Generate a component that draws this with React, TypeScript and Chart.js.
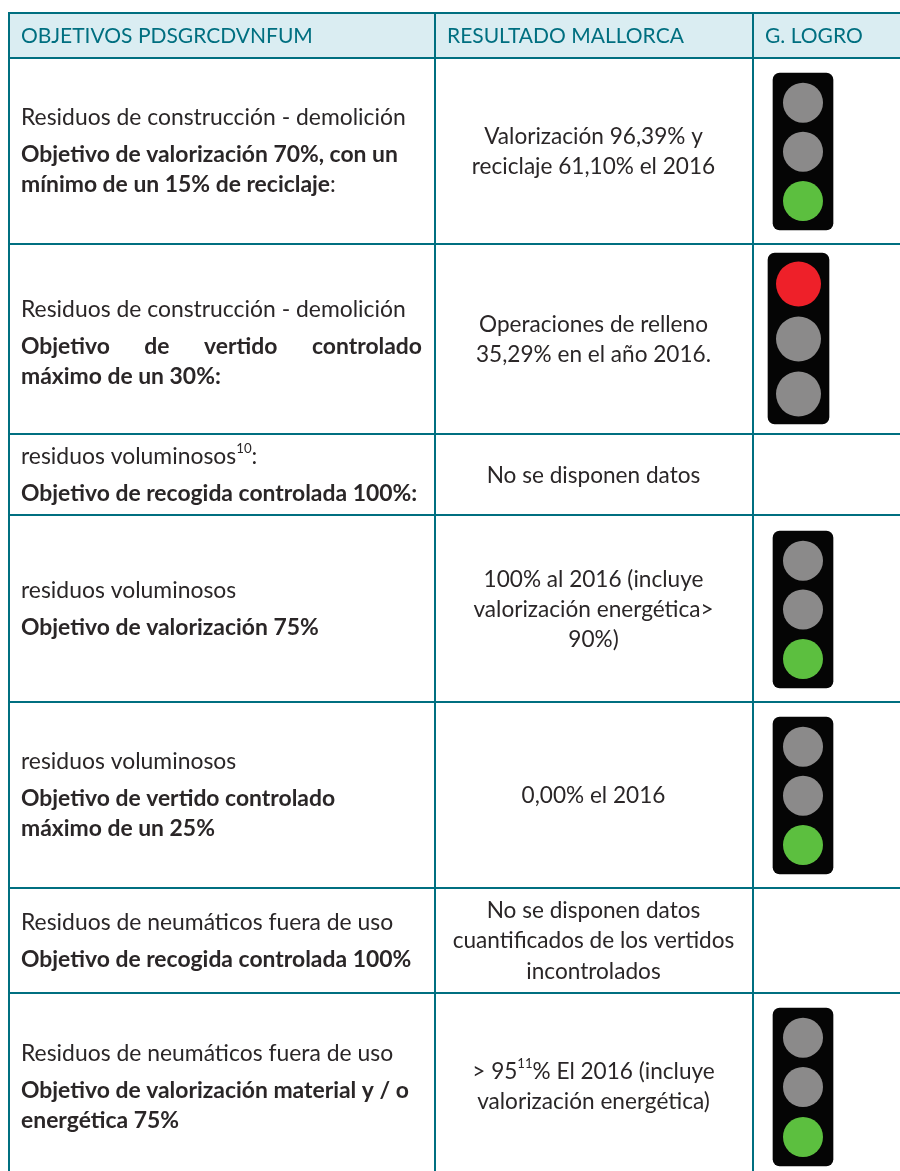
import React, { useEffect, useRef } from "react";
import { Chart, registerables } from "chart.js";

Chart.register(...registerables);

// ---- table content ----
const headers = ["OBJETIVOS PDSGRCDVNFUM", "RESULTADO MALLORCA", "G. LOGRO"];

type Run = { t: string; bold?: boolean; sup?: boolean };
const objectiveLines: Run[][][] = [
  [[{ t: "Residuos de construcción - demolición" }], [{ t: "Objetivo de valorización 70%, con un", bold: true }], [{ t: "mínimo de un 15% de reciclaje", bold: true }, { t: ":" }]],
  [[{ t: "Residuos de construcción - demolición" }], [{ t: "Objetivo de vertido controlado", bold: true }], [{ t: "máximo de un 30%:", bold: true }]],
  [[{ t: "residuos voluminosos" }, { t: "10", sup: true }, { t: ":" }], [{ t: "Objetivo de recogida controlada 100%:", bold: true }]],
  [[{ t: "residuos voluminosos" }], [{ t: "Objetivo de valorización 75%", bold: true }]],
  [[{ t: "residuos voluminosos" }], [{ t: "Objetivo de vertido controlado", bold: true }], [{ t: "máximo de un 25%", bold: true }]],
  [[{ t: "Residuos de neumáticos fuera de uso" }], [{ t: "Objetivo de recogida controlada 100%", bold: true }]],
  [[{ t: "Residuos de neumáticos fuera de uso" }], [{ t: "Objetivo de valorización material y / o", bold: true }], [{ t: "energética 75%", bold: true }]],
];
const resultLines: Run[][][] = [
  [[{ t: "Valorización 96,39% y" }], [{ t: "reciclaje 61,10% el 2016" }]],
  [[{ t: "Operaciones de relleno" }], [{ t: "35,29% en el año 2016." }]],
  [[{ t: "No se disponen datos" }]],
  [[{ t: "100% al 2016 (incluye" }], [{ t: "valorización energética>" }], [{ t: "90%)" }]],
  [[{ t: "0,00% el 2016" }]],
  [[{ t: "No se disponen datos" }], [{ t: "cuantificados de los vertidos" }], [{ t: "incontrolados" }]],
  [[{ t: "> 95" }, { t: "11", sup: true }, { t: "% El 2016 (incluye" }], [{ t: "valorización energética)" }]],
];

// ---- traffic lights, one per rated row ----
const lightStates = [
  ["off", "off", "green"],
  ["red", "off", "off"],
  ["off", "off", "green"],
  ["off", "off", "green"],
  ["off", "off", "green"],
];
const lightCenterX = [803, 798.5, 803, 803, 803];
const lightSpans = [[73, 230], [253, 424], [531, 688], [717, 874], [1008, 1166]];
const lampCenters = [
  [102.7, 151.7, 201],
  [284, 339, 394],
  [560.7, 609.5, 659],
  [746.7, 795.7, 845],
  [1037.7, 1087, 1137],
];

// ---- table rules ----
const columnEdges = [9, 435, 753];
const rowEdges = [13, 58, 244, 434, 515, 702, 888, 993];

// ---- layout ----
const W = 900;
const H = 1171;
const TEAL = "#006f80";
const HEADER_FILL = "#daedf2";
const INK = "#2a2627";
const FONT = "Lato";
const LEFT_SIZE = 22.9;
const RESULT_SIZE = 22.6;
const HEADER_SIZE = 21;
const LEFT_X = 21;
const RESULT_CX = 593.5;
const JUSTIFY_RIGHT = 422;
const headerX = [21, 447, 765];
const HEADER_BASE = 43;
const objectiveBase = [[125, 162, 192], [317, 354, 384], [464, 501], [598, 635], [769, 806, 836], [930, 967], [1061, 1098, 1128]];
const resultBase = [[144, 174], [332, 362], [483], [587, 617, 647], [803], [918, 948, 979], [1079, 1109]];
const lampColors: Record<string, string> = { off: "#8b8a8a", green: "#5cbf3f", red: "#ee2029" };

const fontFor = (r: Run, size: number) =>
  `${r.bold ? "bold " : ""}${r.sup ? size * 0.58 : size}px ${FONT}`;

function widthOf(ctx: CanvasRenderingContext2D, runs: Run[], size: number) {
  return runs.reduce((w, r) => {
    ctx.font = fontFor(r, size);
    return w + ctx.measureText(r.t).width;
  }, 0);
}

function drawRuns(ctx: CanvasRenderingContext2D, runs: Run[], x: number, y: number, size: number) {
  let cx = x;
  for (const r of runs) {
    ctx.font = fontFor(r, size);
    ctx.fillText(r.t, cx, r.sup ? y - size * 0.5 : y);
    cx += ctx.measureText(r.t).width;
  }
}

const tableText = {
  id: "tableText",
  afterDatasetsDraw(chart: any) {
    const { ctx, scales } = chart;
    const px = (v: number) => scales.x.getPixelForValue(v);
    const py = (v: number) => scales.y.getPixelForValue(v);
    ctx.save();
    ctx.textAlign = "left";
    ctx.textBaseline = "alphabetic";
    ctx.fillStyle = TEAL;
    headers.forEach((h, i) => {
      ctx.font = `${HEADER_SIZE}px ${FONT}`;
      ctx.fillText(h, px(headerX[i]), py(HEADER_BASE));
    });
    ctx.fillStyle = INK;
    objectiveLines.forEach((lines, r) =>
      lines.forEach((runs, l) => {
        const y = py(objectiveBase[r][l]);
        if (r === 1 && l === 1) {
          // this line is justified to the cell's width in the source
          const words = runs[0].t.split(" ");
          ctx.font = fontFor(runs[0], LEFT_SIZE);
          const used = words.reduce((s, w) => s + ctx.measureText(w).width, 0);
          const gap = (px(JUSTIFY_RIGHT) - px(LEFT_X) - used) / (words.length - 1);
          let cx = px(LEFT_X);
          words.forEach((w) => {
            ctx.fillText(w, cx, y);
            cx += ctx.measureText(w).width + gap;
          });
        } else {
          drawRuns(ctx, runs, px(LEFT_X), y, LEFT_SIZE);
        }
      })
    );
    resultLines.forEach((lines, r) =>
      lines.forEach((runs, l) => {
        const w = widthOf(ctx, runs, RESULT_SIZE);
        drawRuns(ctx, runs, px(RESULT_CX) - w / 2, py(resultBase[r][l]), RESULT_SIZE);
      })
    );
    ctx.restore();
  },
};

export default function App() {
  const ref = useRef<HTMLCanvasElement>(null);
  useEffect(() => {
    if (!ref.current) return;
    const ruleStyle = { type: "line", borderColor: TEAL, borderWidth: 2, pointRadius: 0, fill: false, order: 3 };
    const datasets: any[] = [
      {
        type: "line",
        label: "header",
        data: [{ x: columnEdges[0], y: rowEdges[0] }, { x: W, y: rowEdges[0] }],
        fill: { value: rowEdges[1] },
        backgroundColor: HEADER_FILL,
        borderWidth: 0,
        pointRadius: 0,
        order: 4,
      },
      ...rowEdges.map((y) => ({ ...ruleStyle, label: "row", data: [{ x: columnEdges[0] - 1, y }, { x: W, y }] })),
      ...columnEdges.map((x) => ({ ...ruleStyle, label: "col", data: [{ x, y: rowEdges[0] }, { x, y: H }] })),
      ...lightSpans.map((span, i) => ({
        type: "bar",
        label: "housing",
        data: [{ x: lightCenterX[i], y: span }],
        backgroundColor: "#050505",
        barThickness: i === 1 ? 61 : 60,
        borderRadius: 7,
        borderSkipped: false,
        grouped: false,
        order: 2,
      })),
      ...lightStates.map((states, i) => ({
        type: "scatter",
        label: "lamps",
        data: states.map((_, j) => ({ x: lightCenterX[i], y: lampCenters[i][j] })),
        backgroundColor: states.map((s) => lampColors[s]),
        borderWidth: 0,
        pointRadius: i === 1 ? 22.5 : 20,
        order: 1,
      })),
    ];
    const chart = new Chart(ref.current, {
      type: "scatter",
      data: { datasets },
      options: {
        animation: false,
        responsive: false,
        layout: { padding: 0, autoPadding: false },
        events: [],
        plugins: { legend: { display: false }, tooltip: { enabled: false }, title: { display: false } },
        scales: {
          x: { type: "linear", display: false, min: 0, max: W, offset: false },
          y: { type: "linear", display: false, min: 0, max: H, reverse: true },
        },
      },
      plugins: [tableText],
    } as any);
    return () => chart.destroy();
  }, []);
  return (
    <canvas
      ref={ref}
      width={W}
      height={H}
      style={{ position: "absolute", left: 0, top: 0, display: "block", background: "#ffffff" }}
    />
  );
}
